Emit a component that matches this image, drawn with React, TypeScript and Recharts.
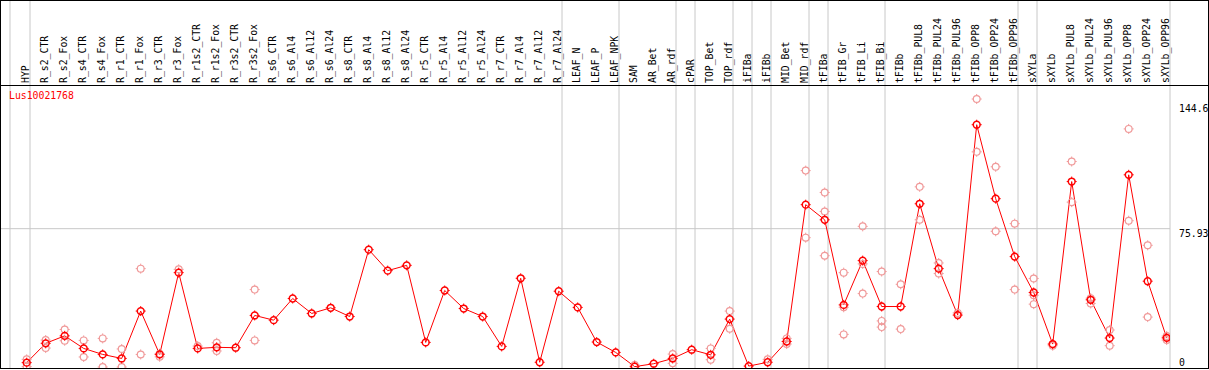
import { ComposedChart, Line, Scatter, XAxis, YAxis, ReferenceLine } from "recharts";

const categories = [
  "HYP", "R_s2_CTR", "R_s2_Fox", "R_s4_CTR", "R_s4_Fox", "R_r1_CTR", "R_r1_Fox", "R_r3_CTR", "R_r3_Fox",
  "R_r1s2_CTR", "R_r1s2_Fox", "R_r3s2_CTR", "R_r3s2_Fox", "R_s6_CTR", "R_s6_Al4", "R_s6_Al12", "R_s6_Al24",
  "R_s8_CTR", "R_s8_Al4", "R_s8_Al12", "R_s8_Al24", "R_r5_CTR", "R_r5_Al4", "R_r5_Al12", "R_r5_Al24",
  "R_r7_CTR", "R_r7_Al4", "R_r7_Al12", "R_r7_Al24", "LEAF_N", "LEAF_P", "LEAF_NPK", "SAM", "AR_Bet", "AR_rdf",
  "cPAR", "TOP_Bet", "TOP_rdf", "iFIBa", "iFIBb", "MID_Bet", "MID_rdf", "tFIBa", "tFIB_Gr", "tFIB_Li", "tFIB_Bi",
  "tFIBb", "tFIBb_PUL8", "tFIBb_PUL24", "tFIBb_PUL96", "tFIBb_OPP8", "tFIBb_OPP24", "tFIBb_OPP96",
  "sXYLa", "sXYLb", "sXYLb_PUL8", "sXYLb_PUL24", "sXYLb_PUL96", "sXYLb_OPP8", "sXYLb_OPP24", "sXYLb_OPP96",
];

const means = [
  2.4, 13.0, 17.1, 10.2, 6.9, 4.7, 30.7, 6.9, 51.8, 10.2, 10.8, 10.6, 28.3, 25.7, 37.6, 29.4, 32.5,
  27.7, 64.4, 52.9, 55.8, 13.5, 42.0, 32.1, 27.7, 11.3, 48.7, 2.6, 41.6, 32.7, 13.7, 8.0, 0.2, 1.8, 4.7,
  9.5, 6.7, 26.3, 0.5, 2.6, 14.0, 89.1, 80.8, 34.1, 58.4, 33.2, 33.2, 89.6, 54.0, 28.5, 133.0, 92.4, 60.6,
  40.9, 12.6, 101.8, 36.9, 15.9, 105.5, 47.1, 16.0,
];

const N = null;
const repA = [
  4.2, 14.8, 20.6, 14.6, 15.7, 9.9, 54.0, 7.3, 53.6, 11.5, 13.3, N, 42.5, N, N, N, N,
  N, N, N, N, N, N, N, N, N, N, N, N, N, N, N, 1.1, N, 7.1,
  N, 10.2, 30.7, N, 4.2, 15.7, 107.8, 95.8, 51.8, 77.2, 52.4, 45.4, 98.9, 57.1, 29.7, 147.1, 109.9, 78.7,
  48.6, 11.7, 112.8, 37.8, 20.3, 130.7, 66.8, 17.0,
];
const repB = [
  0.2, 10.4, 14.4, 5.5, 0.0, 0.0, 6.9, 5.6, N, N, 8.8, N, 14.6, N, N, N, N,
  N, N, N, N, N, N, N, N, N, N, N, N, N, N, N, N, N, 2.0,
  N, 4.0, 21.0, N, N, 12.6, 71.0, 85.4, 32.8, 56.6, 25.3, 20.8, 80.8, 51.3, N, 118.1, 74.5, 42.5,
  39.4, N, 90.5, 34.9, 11.7, 80.3, 27.4, 14.8,
];
const repC = [
  N, N, N, N, N, N, N, N, N, N, N, N, N, N, N, N, N,
  N, N, N, N, N, N, N, N, N, N, N, N, N, N, N, N, N, N,
  N, N, N, N, N, N, N, 61.1, 17.9, 40.3, 21.9, N, N, N, N, N, N, N,
  34.5, N, N, N, N, N, N, N,
];

// last sample of each block, a grey separator sits just right of it
const groupEnds = [-1, 0, 28, 31, 34, 35, 37, 38, 39, 41, 42, 45, 52, 53, 60];
const yTicks = [0, 75.93, 144.6];

const meanData = means.map((v, idx) => ({ idx, v }));
const repData = [repA, repB, repC].flatMap((arr) =>
  arr.flatMap((v, idx) => (v === null ? [] : [{ idx, v }]))
);

const MONO = "DejaVu Sans Mono";
const GRID = "#c8c8c8";

function Marker({ cx, cy, color, sw }: { cx: number; cy: number; color: string; sw: number }) {
  const r = 3.4;
  const t = 1.6;
  return (
    <g stroke={color} strokeWidth={sw} fill="none">
      <circle cx={cx} cy={cy} r={r} />
      <line x1={cx} y1={cy - r - t} x2={cx} y2={cy - r} strokeWidth={1} />
      <line x1={cx} y1={cy + r} x2={cx} y2={cy + r + t} strokeWidth={1} />
      <line x1={cx - r - t} y1={cy} x2={cx - r} y2={cy} strokeWidth={1} />
      <line x1={cx + r} y1={cy} x2={cx + r + t} y2={cy} strokeWidth={1} />
    </g>
  );
}

function sampleTick(p: any) {
  const tx = p.x + 2;
  return (
    <text
      key={p.index}
      x={tx}
      y={83}
      transform={`rotate(-90 ${tx} 83)`}
      fontSize={9.8}
      fontFamily={MONO}
      fill="#000"
      textAnchor="start"
    >
      {categories[p.payload.value]}
    </text>
  );
}

function valueTick(p: any) {
  const v = p.payload.value;
  return (
    <text key={p.index} x={1179} y={v === 0 ? p.y - 1 : p.y + 8} fontSize={9.8} fontFamily={MONO} fill="#000">
      {String(v)}
    </text>
  );
}

export default function App() {
  return (
    <div style={{ position: "relative", width: 1209, height: 370, background: "#fff" }}>
      <style>{"body{margin:0}"}</style>
      <ComposedChart width={1209} height={370} margin={{ top: 0, right: 0, bottom: 2, left: 1 }}>
        <XAxis
          type="number"
          dataKey="idx"
          orientation="top"
          height={1}
          domain={[-1.3526, 60.174]}
          allowDataOverflow
          ticks={categories.map((_, i) => i)}
          interval={0}
          tick={sampleTick}
          axisLine={false}
          tickLine={false}
        />
        <YAxis
          type="number"
          dataKey="v"
          orientation="right"
          width={39}
          domain={[-0.547, 200.91]}
          allowDataOverflow
          ticks={yTicks}
          interval={0}
          tick={valueTick}
          axisLine={false}
          tickLine={false}
        />
        {groupEnds.map((g) => (
          <ReferenceLine
            key={g}
            x={g === -1 ? -0.879 : g + 0.174}
            stroke={GRID}
            strokeWidth={1}
            ifOverflow="visible"
          />
        ))}
        <ReferenceLine y={75.93} stroke={GRID} strokeWidth={1} />
        <Scatter
          data={repData}
          dataKey="v"
          isAnimationActive={false}
          shape={(p: any) => <Marker cx={p.cx} cy={p.cy} color="#f09a9a" sw={1.2} />}
        />
        <Line
          data={meanData}
          dataKey="v"
          type="linear"
          stroke="#ff0000"
          strokeWidth={1}
          isAnimationActive={false}
          dot={(p: any) => <Marker key={p.index} cx={p.cx} cy={p.cy} color="#ff0000" sw={1.5} />}
          activeDot={false}
        />
      </ComposedChart>
      <div
        style={{
          position: "absolute", left: 0, top: 0, width: 1209, height: 369,
          border: "1px solid #000", boxSizing: "border-box", pointerEvents: "none",
        }}
      />
      <div style={{ position: "absolute", left: 0, top: 85, width: 1209, height: 1, background: "#000" }} />
      <div
        style={{
          position: "absolute", left: 9, top: 91, fontFamily: MONO, fontSize: 9.8,
          lineHeight: "10px", color: "#ff0000",
        }}
      >
        Lus10021768
      </div>
    </div>
  );
}
